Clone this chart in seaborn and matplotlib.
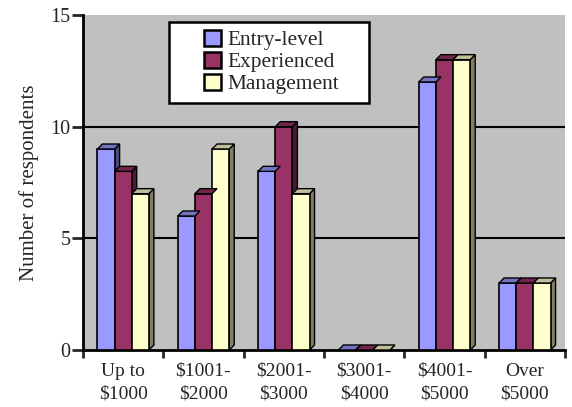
import numpy as np
import pandas as pd
import matplotlib
matplotlib.use('Agg')
import matplotlib.pyplot as plt
from matplotlib.patches import Polygon, Rectangle
from matplotlib.colors import to_rgb
import seaborn as sns

# data
categories = ['Up to\n\\$1000', '\\$1001-\n\\$2000', '\\$2001-\n\\$3000',
              '\\$3001-\n\\$4000', '\\$4001-\n\\$5000', 'Over\n\\$5000']
entry_level = [9, 6, 8, 0, 12, 3]
experienced = [8, 7, 10, 0, 13, 3]
management = [7, 9, 7, 0, 13, 3]
series_names = ['Entry-level', 'Experienced', 'Management']
colors = ['#9999FF', '#993366', '#FFFFCC']

df = pd.DataFrame({
    'cat': categories * 3,
    'group': np.repeat(series_names, len(categories)),
    'value': entry_level + experienced + management,
})

sns.set_style('white')
plt.rcParams['font.family'] = ['Liberation Serif', 'DejaVu Serif']

fig = plt.figure(figsize=(5.72, 4.07), dpi=100)
ax = fig.add_axes([83 / 572, 57 / 407, 482 / 572, 335 / 407])
ax.set_facecolor('#C0C0C0')

sns.barplot(data=df, x='cat', y='value', hue='group', palette=colors,
            saturation=1, width=0.64, edgecolor='black', linewidth=1.2,
            ax=ax, zorder=3, legend=True)

ax.set_xlim(-0.5, 5.5)
ax.set_ylim(0, 15)
ax.set_yticks([0, 5, 10, 15])
for y in [5, 10]:
    ax.axhline(y, color='black', lw=1.5, zorder=1)

# fake 3D depth on each bar
fig.canvas.draw()
bb = ax.get_window_extent()
px_x = bb.width / 6.0
px_y = bb.height / 15.0
dx = 5 / px_x
dy = 5 / px_y
for p in ax.patches[:18]:
    x0 = p.get_x()
    w, h = p.get_width(), p.get_height()
    c = np.array(to_rgb(p.get_facecolor()))
    top = Polygon([(x0, h), (x0 + dx, h + dy), (x0 + w + dx, h + dy), (x0 + w, h)],
                  closed=True, facecolor=c * 0.75, edgecolor='black', lw=1.0, zorder=3)
    side = Polygon([(x0 + w, 0), (x0 + w + dx, dy), (x0 + w + dx, h + dy), (x0 + w, h)],
                   closed=True, facecolor=c * 0.5, edgecolor='black', lw=1.0, zorder=2.9)
    ax.add_patch(side)
    ax.add_patch(top)

# legend box
ax.add_patch(Rectangle((0.178, 0.737), 0.415, 0.242, transform=ax.transAxes,
                       facecolor='white', edgecolor='black', lw=1.8, zorder=4))
leg = ax.legend(loc='upper left', bbox_to_anchor=(0.252, 0.955), borderaxespad=0,
                frameon=False, fontsize=15.4, handlelength=0.75, handleheight=0.75,
                handletextpad=0.3, labelspacing=0.08, borderpad=0)
leg.set_zorder(5)
for hnd in leg.legend_handles:
    hnd.set_linewidth(1.8)
    hnd.set_edgecolor('black')

for s in ['top', 'right']:
    ax.spines[s].set_visible(False)
ax.spines['left'].set_linewidth(2)
ax.spines['bottom'].set_linewidth(2)
ax.spines['left'].set_color('black')
ax.spines['bottom'].set_color('black')

ax.set_xticks(range(6))
ax.set_xticklabels(categories, fontsize=14, linespacing=1.45)
ax.set_xticks(np.arange(-0.5, 6, 1), minor=True)
ax.tick_params(axis='x', which='major', length=0, pad=9)
ax.tick_params(axis='x', which='minor', length=6, width=2, direction='out', bottom=True)
ax.tick_params(axis='y', length=8, width=2, direction='out', left=True, labelsize=14.5, pad=1)
ax.set_xlabel('')
ax.set_ylabel('Number of respondents', fontsize=15, labelpad=8)

fig.savefig('out.png', dpi=100)
